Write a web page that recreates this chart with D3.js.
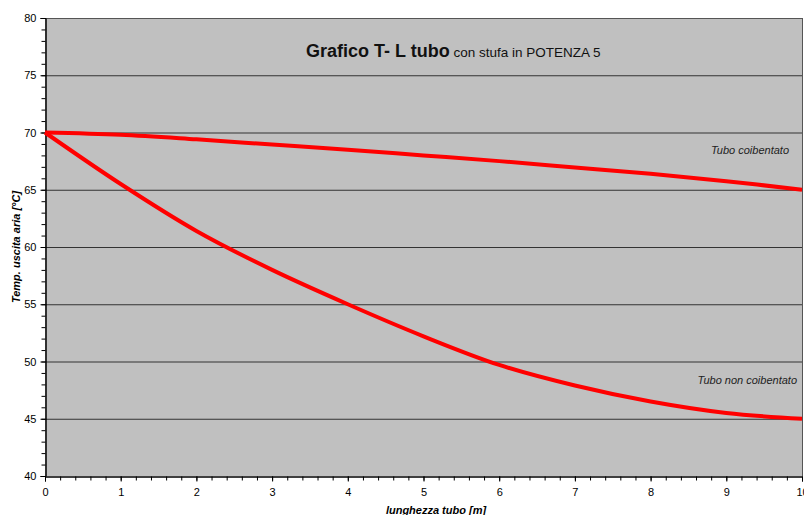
<!DOCTYPE html>
<html><head><meta charset="utf-8">
<script src="https://cdn.jsdelivr.net/npm/d3@7"></script>
<style>body{margin:0;background:#fff;} text{font-family:"Liberation Sans",Arial,sans-serif;}</style>
</head><body>
<svg id="c" width="804" height="515"></svg>
<script>
const lengths = [0,1,2,3,4,5,6,7,8,9,10];
const tuboCoibentato = [70,69.8,69.4,68.95,68.5,68.0,67.5,66.95,66.4,65.75,65.0];
const tuboNonCoibentato = [70,65.5,61.4,58.0,55.0,52.2,49.7,47.9,46.5,45.5,45.0];
const yTicks = [40,45,50,55,60,65,70,75,80];
const xTicks = [0,1,2,3,4,5,6,7,8,9,10];

const svg = d3.select("#c");
const L=45, R=802, T=18, B=476;
const x = d3.scaleLinear().domain([0,10]).range([L,R]);
const y = d3.scaleLinear().domain([40,80]).range([B,T]);

svg.append("rect").attr("x",L).attr("y",T).attr("width",R-L).attr("height",B-T).attr("fill","#c0c0c0");

// grid
svg.append("g").selectAll("line").data(yTicks.filter(d=>d>40&&d<80)).join("line")
  .attr("x1",L).attr("x2",R).attr("y1",d=>y(d)+0.5).attr("y2",d=>y(d)+0.5)
  .attr("stroke","#333").attr("stroke-width",1);
// border top/right
svg.append("line").attr("x1",L).attr("x2",R).attr("y1",T+0.5).attr("y2",T+0.5).attr("stroke","#555");
svg.append("line").attr("x1",R+0.5).attr("x2",R+0.5).attr("y1",T).attr("y2",B).attr("stroke","#555");

// axes
const yAx = svg.append("g").attr("transform",`translate(${L+0.5},0)`)
  .call(d3.axisLeft(y).tickValues(yTicks).tickSize(5).tickPadding(4));
const yMinor = svg.append("g").attr("transform",`translate(${L+0.5},0)`)
  .call(d3.axisLeft(y).tickValues(d3.range(40,81,1)).tickSize(4).tickFormat(""));
const xAx = svg.append("g").attr("transform",`translate(0,${B+0.5})`)
  .call(d3.axisBottom(x).tickValues(xTicks).tickSize(5).tickPadding(7));
const xMinor = svg.append("g").attr("transform",`translate(0,${B+0.5})`)
  .call(d3.axisBottom(x).tickValues(d3.range(0,10.01,0.2)).tickSize(4).tickFormat(""));
[yAx,yMinor,xAx,xMinor].forEach(g=>{
  g.selectAll(".domain").attr("stroke","#000");
  g.selectAll("line").attr("stroke","#000");
  g.selectAll("text").attr("font-size",11).attr("fill","#000").attr("font-family","Liberation Sans, Arial, sans-serif");
});

// lines
const line = d3.line().x((d,i)=>x(lengths[i])).y(d=>y(d)).curve(d3.curveCatmullRom.alpha(0.5));
[tuboCoibentato,tuboNonCoibentato].forEach(s=>{
  svg.append("path").attr("d",line(s)).attr("fill","none").attr("stroke","#ff0000").attr("stroke-width",4);
});

// annotations
svg.append("text").attr("x",789).attr("y",154).attr("text-anchor","end").attr("font-size",11).attr("font-style","italic").attr("fill","#222").text("Tubo coibentato");
svg.append("text").attr("x",797).attr("y",384).attr("text-anchor","end").attr("font-size",11).attr("font-style","italic").attr("fill","#222").text("Tubo non coibentato");

// title
const t = svg.append("text").attr("x",306).attr("y",57).attr("fill","#111");
t.append("tspan").attr("font-size",18).attr("font-weight","bold").text("Grafico T- L tubo");
t.append("tspan").attr("font-size",13.5).text(" con stufa in POTENZA 5");

// axis titles
svg.append("text").attr("transform",`translate(20,247) rotate(-90)`).attr("text-anchor","middle")
  .attr("font-size",11).attr("font-weight","bold").attr("font-style","italic").text("Temp. uscita aria [°C]");
svg.append("text").attr("x",436).attr("y",514).attr("text-anchor","middle")
  .attr("font-size",11).attr("font-weight","bold").attr("font-style","italic").text("lunghezza tubo [m]");
</script>
</body></html>
